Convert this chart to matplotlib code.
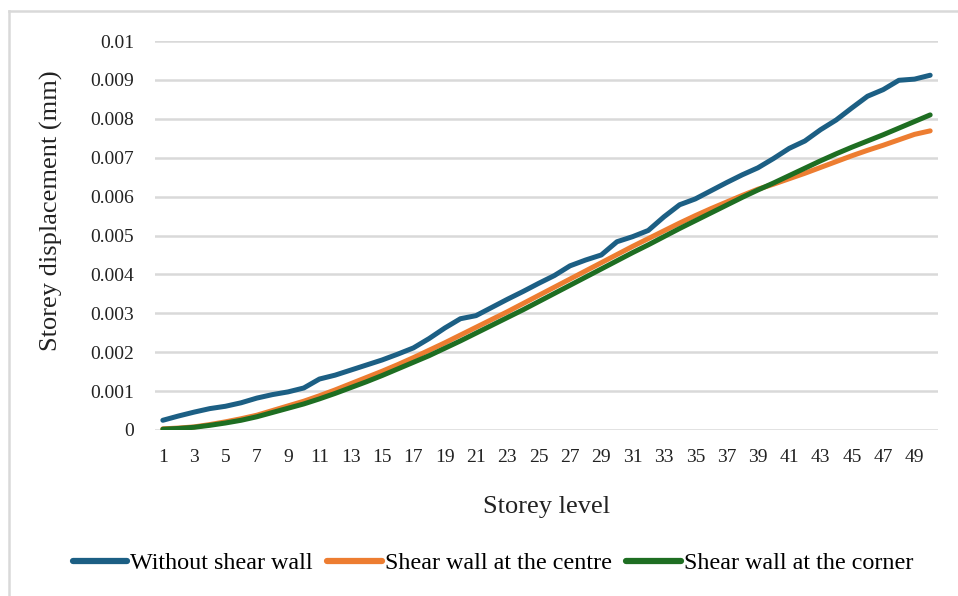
import matplotlib
matplotlib.use("Agg")
import matplotlib.pyplot as plt
from matplotlib.lines import Line2D

plt.rcParams['font.family'] = ['Liberation Serif', 'DejaVu Serif']

# storey displacement (mm) per storey level
levels = list(range(1, 51))

without_wall = [
    0.00025, 0.00036, 0.00046, 0.00055, 0.00061, 0.00070, 0.00082, 0.00091, 0.00098, 0.00108,
    0.00131, 0.00141, 0.00154, 0.00167, 0.00180, 0.00195, 0.00211, 0.00235, 0.00262, 0.00286,
    0.00294, 0.00315, 0.00336, 0.00356, 0.00377, 0.00397, 0.00422, 0.00437, 0.00450, 0.00484,
    0.00497, 0.00513, 0.00548, 0.00579, 0.00594, 0.00615, 0.00636, 0.00656, 0.00674, 0.00698,
    0.00724, 0.00743, 0.00772, 0.00797, 0.00828, 0.00858, 0.00875, 0.00899, 0.00902, 0.00912,
]

wall_centre = [
    0.00003, 0.00005, 0.00008, 0.00014, 0.00021, 0.00029, 0.00038, 0.00050, 0.00062, 0.00074,
    0.00088, 0.00103, 0.00119, 0.00135, 0.00151, 0.00168, 0.00186, 0.00205, 0.00224, 0.00244,
    0.00264, 0.00284, 0.00304, 0.00325, 0.00346, 0.00367, 0.00388, 0.00409, 0.00430, 0.00451,
    0.00472, 0.00492, 0.00512, 0.00532, 0.00551, 0.00569, 0.00586, 0.00603, 0.00619, 0.00632,
    0.00646, 0.00660, 0.00675, 0.00690, 0.00705, 0.00719, 0.00732, 0.00746, 0.00760, 0.00769,
]

wall_corner = [
    0.00002, 0.00004, 0.00007, 0.00012, 0.00018, 0.00025, 0.00034, 0.00045, 0.00056, 0.00067,
    0.00080, 0.00094, 0.00109, 0.00124, 0.00140, 0.00157, 0.00174, 0.00191, 0.00210, 0.00229,
    0.00249, 0.00269, 0.00289, 0.00309, 0.00330, 0.00351, 0.00372, 0.00393, 0.00414, 0.00435,
    0.00456, 0.00476, 0.00497, 0.00518, 0.00538, 0.00558, 0.00578, 0.00598, 0.00617, 0.00635,
    0.00654, 0.00673, 0.00692, 0.00710, 0.00727, 0.00743, 0.00759, 0.00776, 0.00793, 0.00810,
]

series = [
    ('Without shear wall', without_wall, '#1c5f84'),
    ('Shear wall at the centre', wall_centre, '#ed7d31'),
    ('Shear wall at the corner', wall_corner, '#1e6e22'),
]

yticks = [i / 1000 for i in range(0, 11)]
ytick_labels = ['0'] + ['%g' % (i / 1000) for i in range(1, 11)]

fig = plt.figure(figsize=(9.58, 5.96), dpi=100)
ax = fig.add_axes([155 / 958, 1 - 430 / 596, 783 / 958, 389 / 596])

for name, vals, col in series:
    ax.plot(levels, vals, color=col, lw=3.6, solid_capstyle='round',
            solid_joinstyle='round', label=name, zorder=3)

ax.set_xlim(0.5, 50.5)
ax.set_ylim(0, 0.01)
ax.set_yticks(yticks)
ax.set_yticklabels(ytick_labels)
ax.set_xticks(levels[::2])
ax.set_xticklabels([str(v) for v in levels[::2]])
ax.tick_params(axis='both', length=0, labelsize=14, colors='#222222')
ax.tick_params(axis='y', pad=15)
ax.tick_params(axis='x', pad=14)
ax.grid(axis='y', color='#d9d9d9', lw=1.8, zorder=0)
for s in ax.spines.values():
    s.set_visible(False)

ax.set_xlabel('Storey level', fontsize=19, labelpad=21, color='#222222')
ax.set_ylabel('Storey displacement (mm)', fontsize=19, color='#222222')
# the y title sits a little above the middle of the plot area
ax.yaxis.set_label_coords(-0.118, 0.563)

handles = [Line2D([0], [0], color=c, lw=4.5, solid_capstyle='round') for _, _, c in series]
fig.legend(handles, [n for n, _, _ in series], loc='center', ncol=3,
           bbox_to_anchor=(493 / 958, 1 - 563 / 596), frameon=False,
           fontsize=17.4, handlelength=2.25, handletextpad=0.12, columnspacing=0.6)

# light chart-area border along the top and left edges
fig.add_artist(Line2D([9 / 958, 9 / 958], [0, 1 - 11 / 596], color='#d9d9d9', lw=1.8))
fig.add_artist(Line2D([9 / 958, 1], [1 - 11 / 596, 1 - 11 / 596], color='#d9d9d9', lw=1.8))

fig.savefig('out.png', dpi=100)
